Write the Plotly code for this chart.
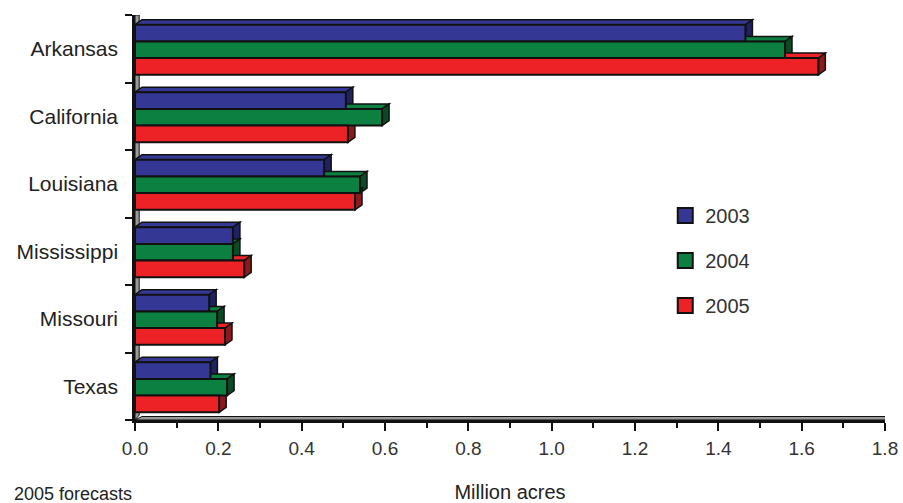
import plotly.graph_objects as go

# ---- data ----
states = ["Arkansas", "California", "Louisiana", "Mississippi", "Missouri", "Texas"]
years = ["2003", "2004", "2005"]
v2003 = [1.465, 0.506, 0.454, 0.235, 0.178, 0.181]
v2004 = [1.56, 0.593, 0.54, 0.235, 0.197, 0.221]
v2005 = [1.64, 0.511, 0.528, 0.262, 0.216, 0.202]
x_tick_vals = [0.0, 0.2, 0.4, 0.6, 0.8, 1.0, 1.2, 1.4, 1.6, 1.8]
x_tick_text = ["0.0", "0.2", "0.4", "0.6", "0.8", "1.0", "1.2", "1.4", "1.6", "1.8"]

series = [v2003, v2004, v2005]
face_colors = ["#343894", "#0b8040", "#ec2227"]
side_colors = ["#1f2160", "#0a4a25", "#8c1a1c"]

# ---- geometry (style) ----
cat_order = states[::-1]          # bottom -> top
w = 0.247                         # bar thickness in category units
c = -0.015                        # group centre shift
offsets = [c + 0.5 * w, c - 0.5 * w, c - 1.5 * w]
dx = 0.0168                       # 3D depth along x (data units)
dy = 0.074                        # 3D depth along y (category units)

fig = go.Figure()
shapes = []

# floor and wall (3D look)
shapes.append(dict(type="path", xref="x", yref="y", layer="below",
                   path=f"M 0,-0.5 L 1.8,-0.5 L {1.8+dx},{-0.5+dy*0.7} L {dx},{-0.5+dy*0.7} Z",
                   fillcolor="#9a9a9a", line=dict(color="#111", width=1)))
shapes.append(dict(type="path", xref="x", yref="y", layer="below",
                   path=f"M 0,-0.5 L 0,5.5 L {dx*0.6},{5.5} L {dx*0.6},{-0.5+dy} Z",
                   fillcolor="#9a9a9a", line=dict(color="#111", width=1)))

for k, (yr, vals) in enumerate(zip(years, series)):
    fig.add_trace(go.Bar(
        y=states, x=vals, orientation="h", name=yr,
        width=w, offset=offsets[k],
        marker=dict(color=face_colors[k], line=dict(color="#111", width=2)),
        showlegend=False, hoverinfo="x+y",
    ))
    for s, v in zip(states, vals):
        pos = cat_order.index(s)
        yb = pos + offsets[k]
        yt = yb + w
        shapes.append(dict(type="path", xref="x", yref="y", layer="below",
                           path=f"M 0,{yt} L {v},{yt} L {v+dx},{yt+dy} L {dx},{yt+dy} Z",
                           fillcolor=face_colors[k], line=dict(color="#111", width=1.5)))
        shapes.append(dict(type="path", xref="x", yref="y", layer="below",
                           path=f"M {v},{yb} L {v},{yt} L {v+dx},{yt+dy} L {v+dx},{yb+dy} Z",
                           fillcolor=side_colors[k], line=dict(color="#111", width=1.5)))

# legend entries
for k, yr in enumerate(years):
    fig.add_trace(go.Scatter(
        x=[None], y=[None], mode="markers", name=yr, legendgroup=yr,
        marker=dict(symbol="square", size=15, color=face_colors[k],
                    line=dict(color="#111", width=2)),
    ))

font_family = "Liberation Sans, Arial, Helvetica, sans-serif"

fig.update_layout(
    width=903, height=503, autosize=False,
    margin=dict(l=135, r=18, t=15, b=83, autoexpand=False),
    paper_bgcolor="white", plot_bgcolor="white",
    barmode="overlay",
    font=dict(family=font_family, size=20, color="#222"),
    shapes=shapes,
    showlegend=True,
    legend=dict(x=0.707, y=0.553, xanchor="left", yanchor="top",
                bgcolor="rgba(0,0,0,0)", tracegroupgap=16,
                font=dict(size=20, color="#333")),
    xaxis=dict(range=[0, 1.8], tickvals=x_tick_vals, ticktext=x_tick_text,
               showgrid=False, zeroline=False, automargin=False,
               showline=True, linecolor="#111", linewidth=2.5,
               ticks="outside", ticklen=8, tickwidth=2, tickcolor="#111",
               minor=dict(ticks="outside", ticklen=5, tickwidth=2, tickcolor="#111", dtick=0.1),
               tickfont=dict(size=19, color="#333"), ticklabelstandoff=1,
               title=dict(text="Million acres", font=dict(size=20, color="#222"), standoff=28),
               fixedrange=True),
    yaxis=dict(type="category", categoryorder="array", categoryarray=cat_order,
               range=[-0.5, 5.5], showgrid=False, zeroline=False, automargin=False,
               showline=True, linecolor="#111", linewidth=2.5,
               ticks="outside", tickson="boundaries", ticklen=7, tickwidth=2, tickcolor="#111",
               tickfont=dict(size=21, color="#222"), ticklabelstandoff=10,
               fixedrange=True),
    annotations=[dict(text="2005 forecasts", xref="paper", yref="paper",
                      x=-0.164, y=-0.152, xanchor="left", yanchor="top",
                      showarrow=False, font=dict(size=18, color="#222"))],
)

fig.write_html("out.html")
